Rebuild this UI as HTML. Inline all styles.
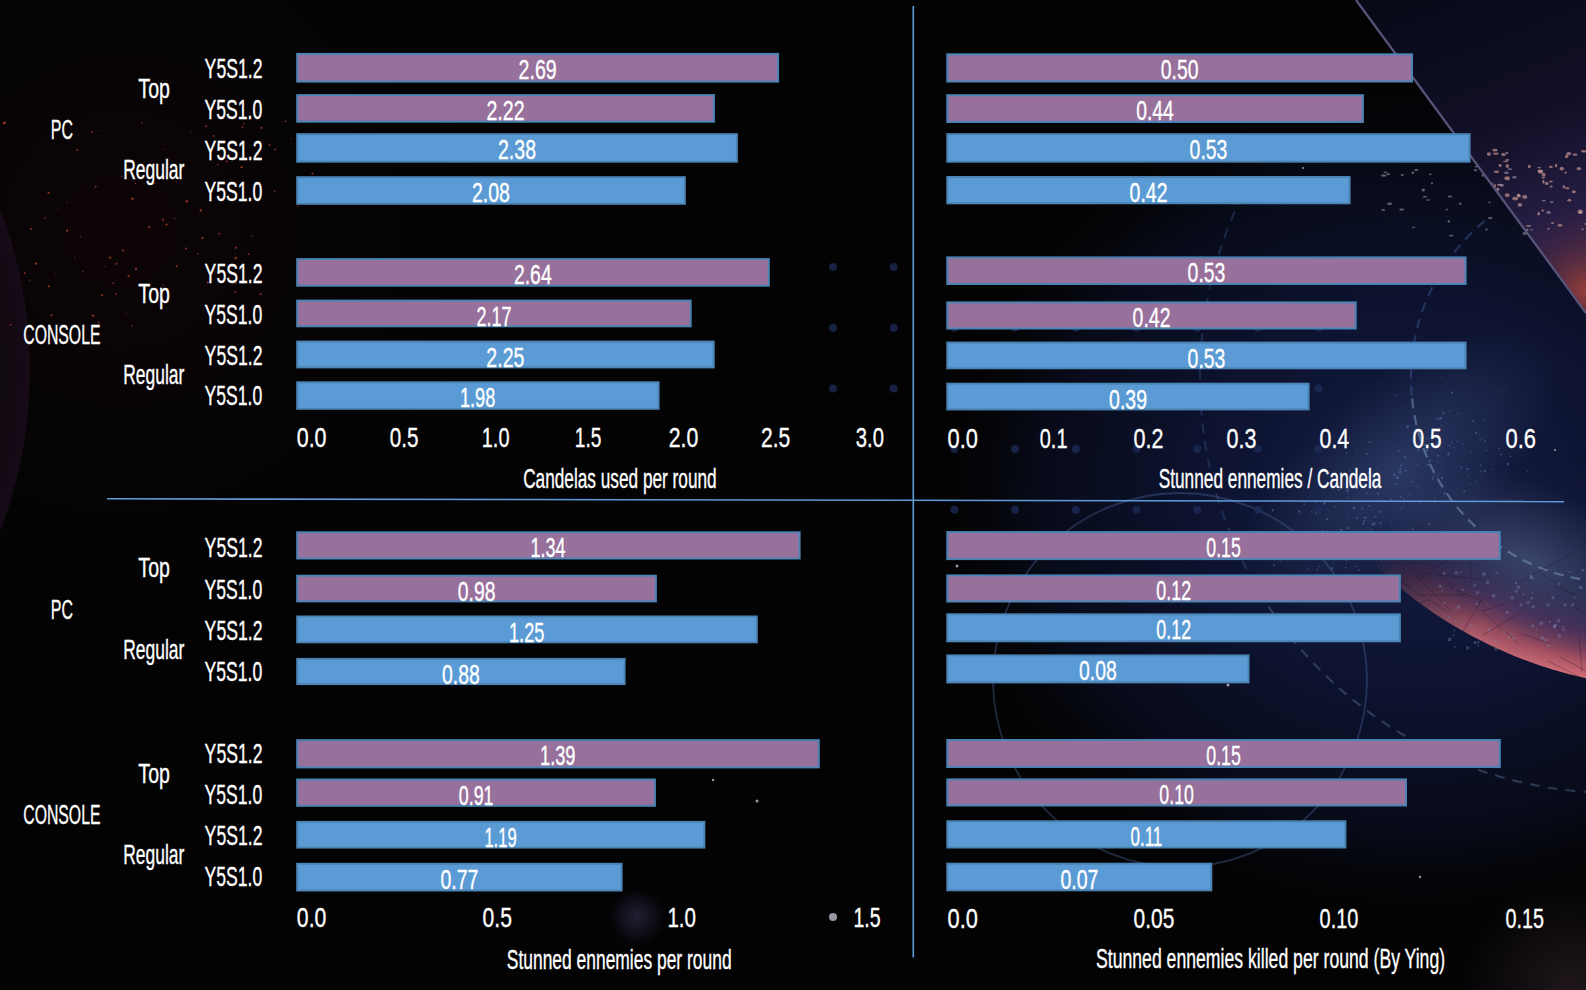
<!DOCTYPE html>
<html><head><meta charset="utf-8"><style>
html,body{margin:0;padding:0;background:#030304;overflow:hidden}
svg{display:block}
text{font-family:"Liberation Sans",sans-serif;stroke:#fff;stroke-width:0.35px}
</style></head><body>
<svg width="1586" height="990" viewBox="0 0 1586 990">
<defs>
<radialGradient id="navy" cx="1420" cy="500" r="540" gradientTransform="translate(1420 500) scale(0.9 0.78) translate(-1420 -500)" gradientUnits="userSpaceOnUse">
<stop offset="0" stop-color="#141c42"/><stop offset="0.45" stop-color="#0d1330"/><stop offset="0.8" stop-color="#070a17"/><stop offset="1" stop-color="#050507" stop-opacity="0"/>
</radialGradient>
<radialGradient id="redtl" cx="120" cy="230" r="380" gradientUnits="userSpaceOnUse">
<stop offset="0" stop-color="#0e0406" stop-opacity="1"/><stop offset="1" stop-color="#060507" stop-opacity="0"/>
</radialGradient>
<radialGradient id="ring" cx="1683" cy="242" r="447" gradientUnits="userSpaceOnUse">
<stop offset="0" stop-color="#141a3a" stop-opacity="0"/><stop offset="0.8" stop-color="#2a2a50" stop-opacity="0.35"/><stop offset="0.9" stop-color="#603460" stop-opacity="0.8"/><stop offset="0.965" stop-color="#b25666"/><stop offset="1" stop-color="#da727a"/>
</radialGradient>
<radialGradient id="ringmask" cx="1580" cy="700" r="250" gradientUnits="userSpaceOnUse">
<stop offset="0" stop-color="#fff"/><stop offset="0.5" stop-color="#ccc"/><stop offset="1" stop-color="#000"/>
</radialGradient>
<mask id="rm"><rect width="1586" height="990" fill="url(#ringmask)"/></mask>
<radialGradient id="clouds" cx="1400" cy="470" r="150" gradientUnits="userSpaceOnUse" gradientTransform="translate(1400 470) rotate(-40) scale(1.3 0.6) translate(-1400 -470)">
<stop offset="0" stop-color="#3c5080" stop-opacity="0.55"/><stop offset="1" stop-color="#3a4a78" stop-opacity="0"/>
</radialGradient>
<radialGradient id="surf" cx="1530" cy="560" r="110" gradientUnits="userSpaceOnUse" gradientTransform="translate(1530 560) rotate(25) scale(1.4 0.7) translate(-1530 -560)">
<stop offset="0" stop-color="#5a6690" stop-opacity="0.55"/><stop offset="1" stop-color="#4a5680" stop-opacity="0"/>
</radialGradient>
<linearGradient id="tri" x1="1400" y1="0" x2="1500" y2="260" gradientUnits="userSpaceOnUse">
<stop offset="0" stop-color="#080a18"/><stop offset="0.55" stop-color="#110f26"/><stop offset="1" stop-color="#2a2048"/>
</linearGradient>
<radialGradient id="neb" cx="1586" cy="290" r="85" gradientUnits="userSpaceOnUse">
<stop offset="0" stop-color="#9a4038" stop-opacity="0.95"/><stop offset="1" stop-color="#3a2040" stop-opacity="0"/>
</radialGradient>
<radialGradient id="leftp" cx="-420" cy="370" r="450" gradientUnits="userSpaceOnUse">
<stop offset="0.85" stop-color="#0a060a"/><stop offset="1" stop-color="#160b17"/>
</radialGradient>
<radialGradient id="bot" cx="1570" cy="990" r="110" gradientUnits="userSpaceOnUse">
<stop offset="0" stop-color="#2a1e24" stop-opacity="0.7"/><stop offset="1" stop-color="#2a1e24" stop-opacity="0"/>
</radialGradient>
<radialGradient id="pblob" cx="637" cy="917" r="28" gradientUnits="userSpaceOnUse">
<stop offset="0" stop-color="#2a2440" stop-opacity="0.8"/><stop offset="1" stop-color="#2a2440" stop-opacity="0"/>
</radialGradient>
<clipPath id="triclip"><polygon points="1356,0 1586,0 1586,313"/></clipPath>
<clipPath id="planetclip"><circle cx="1683" cy="242" r="447"/></clipPath>
</defs>
<rect width="1586" height="990" fill="#030304"/>
<rect width="1586" height="990" fill="url(#redtl)"/>
<circle cx="-420" cy="370" r="450" fill="url(#leftp)"/>
<rect width="1586" height="990" fill="url(#navy)"/>
<rect width="1586" height="990" fill="url(#clouds)"/>
<circle cx="1683" cy="242" r="447" fill="url(#ring)" mask="url(#rm)"/>
<rect width="1586" height="990" fill="url(#surf)"/>
<rect width="1586" height="990" fill="url(#bot)"/>
<rect width="1586" height="990" fill="url(#pblob)"/>

<path d="M1597.2 581.2A204 204 0 0 1 1411.8 395.8" fill="none" stroke="#8aaad0" stroke-opacity="0.45" stroke-width="2.2" stroke-dasharray="10 7"/>
<path d="M1411.8 395.8A204 204 0 0 1 1489.4 217.2" fill="none" stroke="#3a5a98" stroke-opacity="0.45" stroke-width="2.2" stroke-dasharray="10 7"/>
<path d="M1593.3 792.4A415 415 0 0 1 1255.6 585.5" fill="none" stroke="#7a9cc8" stroke-opacity="0.3" stroke-width="2.2" stroke-dasharray="10 8"/>
<path d="M1255.6 585.5A415 415 0 0 1 1238.9 202.6" fill="none" stroke="#34548c" stroke-opacity="0.4" stroke-width="2" stroke-dasharray="10 8"/>
<circle cx="1180" cy="680" r="187" fill="none" stroke="#4a6498" stroke-opacity="0.4" stroke-width="1.8"/>
<circle cx="833.0" cy="267.0" r="4" fill="#1e2c58" fill-opacity="0.75"/>
<circle cx="833.0" cy="327.7" r="4" fill="#1e2c58" fill-opacity="0.75"/>
<circle cx="833.0" cy="388.4" r="4" fill="#1e2c58" fill-opacity="0.75"/>
<circle cx="893.7" cy="267.0" r="4" fill="#1e2c58" fill-opacity="0.75"/>
<circle cx="893.7" cy="327.7" r="4" fill="#1e2c58" fill-opacity="0.75"/>
<circle cx="893.7" cy="388.4" r="4" fill="#1e2c58" fill-opacity="0.75"/>
<circle cx="954.4" cy="267.0" r="4" fill="#1e2c58" fill-opacity="0.75"/>
<circle cx="954.4" cy="327.7" r="4" fill="#1e2c58" fill-opacity="0.75"/>
<circle cx="954.4" cy="388.4" r="4" fill="#1e2c58" fill-opacity="0.75"/>
<circle cx="954.4" cy="449.1" r="4" fill="#1e2c58" fill-opacity="0.75"/>
<circle cx="954.4" cy="509.8" r="4" fill="#1e2c58" fill-opacity="0.75"/>
<circle cx="1015.1" cy="267.0" r="4" fill="#1e2c58" fill-opacity="0.75"/>
<circle cx="1015.1" cy="327.7" r="4" fill="#1e2c58" fill-opacity="0.75"/>
<circle cx="1015.1" cy="388.4" r="4" fill="#1e2c58" fill-opacity="0.75"/>
<circle cx="1015.1" cy="449.1" r="4" fill="#1e2c58" fill-opacity="0.75"/>
<circle cx="1015.1" cy="509.8" r="4" fill="#1e2c58" fill-opacity="0.75"/>
<circle cx="1075.8" cy="267.0" r="4" fill="#1e2c58" fill-opacity="0.75"/>
<circle cx="1075.8" cy="327.7" r="4" fill="#1e2c58" fill-opacity="0.75"/>
<circle cx="1075.8" cy="388.4" r="4" fill="#1e2c58" fill-opacity="0.75"/>
<circle cx="1075.8" cy="449.1" r="4" fill="#1e2c58" fill-opacity="0.75"/>
<circle cx="1075.8" cy="509.8" r="4" fill="#1e2c58" fill-opacity="0.75"/>
<circle cx="1136.5" cy="267.0" r="4" fill="#1e2c58" fill-opacity="0.75"/>
<circle cx="1136.5" cy="327.7" r="4" fill="#1e2c58" fill-opacity="0.75"/>
<circle cx="1136.5" cy="388.4" r="4" fill="#1e2c58" fill-opacity="0.75"/>
<circle cx="1136.5" cy="449.1" r="4" fill="#1e2c58" fill-opacity="0.75"/>
<circle cx="1136.5" cy="509.8" r="4" fill="#1e2c58" fill-opacity="0.75"/>
<circle cx="1197.2" cy="267.0" r="4" fill="#1e2c58" fill-opacity="0.75"/>
<circle cx="1197.2" cy="327.7" r="4" fill="#1e2c58" fill-opacity="0.75"/>
<circle cx="1197.2" cy="388.4" r="4" fill="#1e2c58" fill-opacity="0.75"/>
<circle cx="1197.2" cy="449.1" r="4" fill="#1e2c58" fill-opacity="0.75"/>
<circle cx="1197.2" cy="509.8" r="4" fill="#1e2c58" fill-opacity="0.75"/>
<circle cx="1257.9" cy="267.0" r="4" fill="#1e2c58" fill-opacity="0.75"/>
<circle cx="1257.9" cy="327.7" r="4" fill="#1e2c58" fill-opacity="0.75"/>
<circle cx="1257.9" cy="388.4" r="4" fill="#1e2c58" fill-opacity="0.75"/>
<circle cx="1257.9" cy="449.1" r="4" fill="#1e2c58" fill-opacity="0.75"/>
<circle cx="1257.9" cy="509.8" r="4" fill="#1e2c58" fill-opacity="0.75"/>
<circle cx="1318.6" cy="267.0" r="4" fill="#1e2c58" fill-opacity="0.75"/>
<circle cx="1318.6" cy="327.7" r="4" fill="#1e2c58" fill-opacity="0.75"/>
<circle cx="1318.6" cy="388.4" r="4" fill="#1e2c58" fill-opacity="0.75"/>
<circle cx="1318.6" cy="449.1" r="4" fill="#1e2c58" fill-opacity="0.75"/>
<circle cx="1318.6" cy="509.8" r="4" fill="#1e2c58" fill-opacity="0.75"/>
<g clip-path="url(#planetclip)"><path d="M1413 563L1431 528 M1467 595L1414 595 M1340 605L1288 572 M1439 664L1394 642 M1491 682L1500 674 M1580 547L1623 530 M1367 558L1344 583 M1376 627L1393 617 M1470 549L1417 526 M1504 604L1482 611 M1446 585L1481 601 M1392 626L1396 656 M1517 583L1574 553 M1437 654L1395 653 M1340 640L1372 646 M1554 587L1578 595 M1478 608L1519 644 M1451 640L1399 656 M1496 689L1534 672 M1429 640L1371 637 M1373 558L1320 579 M1363 577L1350 607 M1351 607L1357 638 M1540 670L1513 663 M1422 673L1477 645 M1375 575L1343 574 M1481 579L1421 573 M1425 625L1479 640 M1462 633L1483 597 M1560 657L1605 681 M1430 600L1383 611 M1346 550L1311 523 M1417 548L1357 520 M1356 595L1299 624 M1487 562L1457 550 M1423 558L1465 598 M1449 613L1400 581 M1418 580L1457 553 M1336 683L1339 654 M1469 544L1472 582 M1551 644L1522 634 M1373 656L1377 678 M1414 573L1452 612 M1548 661L1586 680 M1388 618L1371 580 M1337 582L1308 597 M1575 607L1627 646 M1574 595L1541 573 M1380 571L1395 603 M1545 612L1564 636 M1352 639L1401 662 M1522 612L1483 635 M1415 660L1472 652 M1433 682L1460 656 M1363 563L1411 587 M1367 664L1425 677 M1420 622L1375 583 M1579 637L1582 672 M1441 671L1480 648 M1394 584L1363 591" stroke="#1a1428" stroke-opacity="0.3" stroke-width="1" fill="none"/></g>
<g fill="#6f8cc0" fill-opacity="0.4"><circle cx="1341.2" cy="530.1" r="1.2"/><circle cx="1327.1" cy="519.1" r="1.2"/><circle cx="1417.8" cy="486.5" r="0.9"/><circle cx="1435.0" cy="489.9" r="0.6"/><circle cx="1325.1" cy="544.8" r="0.9"/><circle cx="1399.1" cy="450.8" r="0.9"/><circle cx="1406.0" cy="470.7" r="0.9"/><circle cx="1345.6" cy="567.6" r="0.9"/><circle cx="1408.2" cy="426.3" r="0.9"/><circle cx="1369.2" cy="473.2" r="1.1"/><circle cx="1347.7" cy="490.8" r="1.3"/><circle cx="1483.9" cy="420.3" r="0.7"/><circle cx="1465.8" cy="465.0" r="0.6"/><circle cx="1323.8" cy="546.4" r="0.7"/><circle cx="1299.4" cy="511.5" r="1.2"/><circle cx="1330.6" cy="502.5" r="0.6"/><circle cx="1476.3" cy="432.8" r="1.3"/><circle cx="1272.8" cy="510.3" r="1.2"/><circle cx="1304.2" cy="550.0" r="0.8"/><circle cx="1324.4" cy="569.0" r="0.5"/><circle cx="1396.0" cy="484.2" r="0.8"/><circle cx="1400.1" cy="471.9" r="1.3"/><circle cx="1454.0" cy="447.5" r="0.7"/><circle cx="1329.1" cy="534.9" r="0.6"/><circle cx="1437.1" cy="476.5" r="0.7"/><circle cx="1380.5" cy="523.3" r="1.1"/><circle cx="1381.6" cy="561.0" r="0.8"/><circle cx="1375.0" cy="536.5" r="1.1"/><circle cx="1338.8" cy="541.0" r="1.2"/><circle cx="1363.4" cy="523.4" r="1.2"/><circle cx="1388.2" cy="544.7" r="0.7"/><circle cx="1340.6" cy="551.5" r="0.7"/><circle cx="1345.4" cy="556.0" r="0.7"/><circle cx="1408.2" cy="510.7" r="0.5"/><circle cx="1412.7" cy="528.8" r="0.9"/><circle cx="1266.1" cy="542.7" r="0.6"/><circle cx="1405.2" cy="457.4" r="1.2"/><circle cx="1324.4" cy="503.4" r="1.3"/><circle cx="1397.2" cy="478.0" r="1.0"/><circle cx="1372.8" cy="510.2" r="0.6"/><circle cx="1327.2" cy="530.9" r="0.6"/><circle cx="1369.2" cy="505.7" r="1.0"/><circle cx="1362.3" cy="541.3" r="0.9"/><circle cx="1316.2" cy="544.5" r="1.3"/><circle cx="1440.8" cy="418.4" r="1.3"/><circle cx="1364.0" cy="517.6" r="0.8"/><circle cx="1366.7" cy="493.3" r="0.9"/><circle cx="1317.4" cy="570.1" r="0.8"/><circle cx="1353.8" cy="557.2" r="0.7"/><circle cx="1349.7" cy="470.4" r="1.0"/><circle cx="1452.0" cy="442.7" r="0.8"/><circle cx="1500.8" cy="454.5" r="1.0"/><circle cx="1362.4" cy="508.5" r="1.0"/><circle cx="1436.9" cy="444.6" r="0.9"/><circle cx="1426.8" cy="450.5" r="1.2"/><circle cx="1448.2" cy="454.6" r="1.1"/><circle cx="1371.3" cy="530.4" r="0.8"/><circle cx="1356.9" cy="517.9" r="1.0"/><circle cx="1396.1" cy="446.1" r="0.5"/><circle cx="1438.8" cy="418.8" r="0.9"/><circle cx="1470.5" cy="484.2" r="0.7"/><circle cx="1323.8" cy="589.8" r="0.7"/><circle cx="1470.8" cy="452.0" r="0.8"/><circle cx="1366.6" cy="453.9" r="1.0"/><circle cx="1433.2" cy="476.6" r="0.7"/><circle cx="1415.8" cy="486.5" r="0.5"/><circle cx="1321.1" cy="588.6" r="1.1"/><circle cx="1410.0" cy="494.6" r="0.9"/><circle cx="1443.4" cy="530.6" r="0.7"/><circle cx="1472.7" cy="421.2" r="0.9"/><circle cx="1480.1" cy="439.8" r="0.7"/><circle cx="1372.6" cy="524.9" r="1.0"/><circle cx="1254.1" cy="530.9" r="0.6"/><circle cx="1369.7" cy="442.3" r="1.1"/><circle cx="1385.5" cy="510.3" r="0.5"/><circle cx="1280.3" cy="560.9" r="0.7"/><circle cx="1322.4" cy="558.4" r="1.2"/><circle cx="1318.6" cy="512.0" r="0.6"/><circle cx="1441.5" cy="377.9" r="0.7"/><circle cx="1274.2" cy="565.0" r="1.0"/><circle cx="1347.6" cy="518.3" r="0.5"/><circle cx="1348.0" cy="528.1" r="1.2"/><circle cx="1351.8" cy="554.9" r="0.7"/><circle cx="1444.7" cy="493.6" r="1.1"/><circle cx="1485.1" cy="440.9" r="0.9"/><circle cx="1481.5" cy="471.7" r="0.9"/><circle cx="1414.7" cy="438.4" r="0.5"/><circle cx="1486.4" cy="450.5" r="0.8"/><circle cx="1356.7" cy="450.1" r="0.7"/><circle cx="1403.7" cy="498.5" r="0.8"/><circle cx="1356.0" cy="551.1" r="1.2"/><circle cx="1407.8" cy="543.8" r="1.3"/><circle cx="1401.0" cy="509.6" r="0.6"/><circle cx="1391.7" cy="522.1" r="0.7"/><circle cx="1448.8" cy="453.2" r="0.8"/><circle cx="1347.3" cy="498.4" r="0.8"/><circle cx="1311.7" cy="615.8" r="0.6"/><circle cx="1346.6" cy="453.3" r="0.7"/><circle cx="1359.5" cy="547.3" r="0.9"/><circle cx="1504.3" cy="385.1" r="0.5"/><circle cx="1304.2" cy="504.0" r="0.9"/><circle cx="1442.1" cy="477.8" r="1.2"/><circle cx="1501.1" cy="391.6" r="0.7"/><circle cx="1358.6" cy="569.8" r="1.0"/><circle cx="1452.2" cy="392.7" r="1.1"/><circle cx="1378.1" cy="493.7" r="1.1"/><circle cx="1397.5" cy="510.1" r="0.7"/><circle cx="1336.9" cy="577.6" r="1.1"/><circle cx="1373.6" cy="557.3" r="1.0"/><circle cx="1384.8" cy="539.1" r="0.5"/><circle cx="1278.1" cy="533.2" r="1.0"/><circle cx="1427.0" cy="439.1" r="0.7"/><circle cx="1455.6" cy="405.0" r="0.5"/><circle cx="1377.0" cy="467.0" r="0.7"/><circle cx="1441.8" cy="458.4" r="0.5"/><circle cx="1322.8" cy="530.8" r="0.7"/><circle cx="1436.3" cy="418.8" r="0.7"/><circle cx="1440.9" cy="467.1" r="0.7"/><circle cx="1353.6" cy="508.1" r="1.3"/><circle cx="1402.9" cy="507.0" r="0.8"/><circle cx="1437.8" cy="462.4" r="0.8"/><circle cx="1369.5" cy="527.9" r="0.5"/><circle cx="1268.5" cy="584.8" r="1.2"/><circle cx="1510.4" cy="456.5" r="0.8"/><circle cx="1399.5" cy="517.8" r="0.5"/><circle cx="1394.5" cy="483.7" r="0.8"/><circle cx="1372.1" cy="536.7" r="0.8"/><circle cx="1527.6" cy="471.5" r="0.7"/><circle cx="1400.5" cy="468.2" r="0.8"/><circle cx="1292.2" cy="557.1" r="1.2"/><circle cx="1298.3" cy="573.1" r="0.5"/><circle cx="1403.1" cy="463.0" r="0.5"/><circle cx="1396.0" cy="576.7" r="0.7"/><circle cx="1457.2" cy="441.8" r="0.7"/><circle cx="1443.3" cy="412.9" r="1.1"/><circle cx="1365.6" cy="517.8" r="1.1"/><circle cx="1401.5" cy="387.0" r="0.5"/><circle cx="1266.9" cy="537.0" r="1.3"/><circle cx="1376.5" cy="532.4" r="0.9"/><circle cx="1484.9" cy="471.2" r="1.1"/><circle cx="1449.9" cy="411.0" r="0.8"/><circle cx="1327.1" cy="548.6" r="0.6"/><circle cx="1348.5" cy="513.5" r="0.6"/><circle cx="1293.8" cy="548.1" r="1.3"/><circle cx="1479.7" cy="434.8" r="0.6"/><circle cx="1277.6" cy="546.9" r="0.9"/><circle cx="1311.4" cy="544.6" r="1.0"/><circle cx="1461.3" cy="425.0" r="0.6"/><circle cx="1433.5" cy="473.4" r="0.8"/><circle cx="1438.5" cy="474.6" r="0.7"/><circle cx="1375.6" cy="516.7" r="0.8"/><circle cx="1419.8" cy="503.1" r="0.7"/><circle cx="1379.6" cy="383.8" r="0.6"/><circle cx="1418.4" cy="450.1" r="1.2"/><circle cx="1319.4" cy="566.5" r="0.7"/><circle cx="1395.9" cy="395.0" r="0.8"/><circle cx="1423.9" cy="444.8" r="1.1"/><circle cx="1498.8" cy="448.4" r="1.0"/><circle cx="1338.0" cy="539.7" r="0.7"/><circle cx="1315.5" cy="503.1" r="0.7"/><circle cx="1295.1" cy="591.7" r="0.6"/><circle cx="1383.4" cy="558.9" r="0.9"/><circle cx="1355.8" cy="566.1" r="0.9"/><circle cx="1432.7" cy="478.6" r="1.1"/><circle cx="1374.1" cy="523.6" r="1.3"/><circle cx="1335.4" cy="506.7" r="0.8"/><circle cx="1482.6" cy="438.5" r="0.7"/><circle cx="1429.8" cy="460.7" r="1.2"/><circle cx="1397.7" cy="477.6" r="1.2"/><circle cx="1391.2" cy="499.2" r="0.9"/><circle cx="1428.1" cy="464.5" r="1.0"/><circle cx="1354.7" cy="507.7" r="0.7"/><circle cx="1412.2" cy="481.6" r="0.9"/><circle cx="1463.0" cy="443.9" r="0.6"/><circle cx="1501.1" cy="423.6" r="0.5"/><circle cx="1401.0" cy="465.4" r="1.0"/><circle cx="1476.2" cy="481.7" r="0.7"/><circle cx="1416.9" cy="464.7" r="0.6"/><circle cx="1317.0" cy="547.3" r="0.8"/><circle cx="1337.7" cy="582.9" r="1.2"/><circle cx="1269.8" cy="538.2" r="0.5"/><circle cx="1480.4" cy="465.4" r="0.9"/><circle cx="1400.7" cy="496.7" r="1.0"/><circle cx="1362.1" cy="477.5" r="0.9"/><circle cx="1291.8" cy="537.0" r="0.7"/><circle cx="1441.3" cy="425.9" r="0.6"/><circle cx="1404.3" cy="501.9" r="0.8"/><circle cx="1292.9" cy="557.8" r="0.5"/><circle cx="1464.2" cy="491.0" r="1.1"/><circle cx="1434.8" cy="498.3" r="0.8"/><circle cx="1507.8" cy="464.1" r="1.3"/><circle cx="1438.4" cy="442.5" r="1.3"/><circle cx="1467.8" cy="476.2" r="0.6"/><circle cx="1449.5" cy="445.7" r="0.8"/><circle cx="1473.4" cy="498.9" r="0.7"/><circle cx="1467.6" cy="469.0" r="1.2"/><circle cx="1346.3" cy="560.4" r="0.8"/><circle cx="1332.2" cy="568.3" r="1.2"/><circle cx="1438.2" cy="455.6" r="1.1"/><circle cx="1286.6" cy="537.1" r="0.8"/><circle cx="1407.3" cy="426.6" r="1.2"/><circle cx="1383.2" cy="543.8" r="0.8"/><circle cx="1429.4" cy="524.3" r="1.0"/><circle cx="1376.2" cy="482.7" r="0.6"/><circle cx="1492.9" cy="469.7" r="0.7"/><circle cx="1461.4" cy="467.2" r="1.0"/><circle cx="1374.7" cy="516.3" r="0.6"/><circle cx="1373.4" cy="486.1" r="1.2"/><circle cx="1345.3" cy="577.5" r="0.5"/><circle cx="1308.2" cy="569.0" r="0.8"/><circle cx="1311.7" cy="511.9" r="0.7"/><circle cx="1394.2" cy="474.8" r="1.2"/><circle cx="1364.3" cy="534.9" r="1.0"/><circle cx="1457.6" cy="413.2" r="0.7"/><circle cx="1292.2" cy="533.0" r="0.8"/><circle cx="1338.9" cy="490.0" r="1.1"/><circle cx="1364.4" cy="520.9" r="0.9"/><circle cx="1380.6" cy="511.8" r="1.1"/><circle cx="1240.9" cy="539.6" r="0.6"/><circle cx="1315.9" cy="513.4" r="1.0"/></g>
<g fill="#8090b8" fill-opacity="0.35"><circle cx="1558.8" cy="584.0" r="1.2"/><circle cx="1483.8" cy="573.9" r="1.9"/><circle cx="1554.3" cy="627.2" r="0.8"/><circle cx="1563.3" cy="629.6" r="1.4"/><circle cx="1548.3" cy="606.2" r="1.1"/><circle cx="1455.4" cy="588.6" r="0.8"/><circle cx="1489.0" cy="630.0" r="1.6"/><circle cx="1563.4" cy="626.9" r="1.1"/><circle cx="1520.9" cy="604.9" r="1.7"/><circle cx="1516.4" cy="591.2" r="1.6"/><circle cx="1580.9" cy="587.4" r="1.9"/><circle cx="1442.2" cy="590.8" r="1.1"/><circle cx="1548.6" cy="645.6" r="1.7"/><circle cx="1487.7" cy="640.4" r="1.2"/><circle cx="1474.9" cy="642.6" r="1.6"/><circle cx="1541.2" cy="623.2" r="2.0"/><circle cx="1508.5" cy="637.2" r="1.6"/><circle cx="1565.2" cy="605.0" r="1.7"/><circle cx="1523.3" cy="594.6" r="1.1"/><circle cx="1530.9" cy="576.2" r="1.9"/><circle cx="1461.1" cy="572.2" r="0.9"/><circle cx="1575.6" cy="597.6" r="1.0"/><circle cx="1444.2" cy="573.3" r="1.6"/><circle cx="1532.5" cy="625.8" r="1.7"/><circle cx="1449.6" cy="617.2" r="1.2"/><circle cx="1559.4" cy="635.6" r="1.9"/><circle cx="1449.6" cy="639.4" r="1.9"/><circle cx="1577.9" cy="578.6" r="1.0"/><circle cx="1456.3" cy="572.8" r="1.8"/><circle cx="1558.6" cy="620.7" r="1.8"/><circle cx="1532.2" cy="593.0" r="0.9"/><circle cx="1454.3" cy="630.6" r="1.0"/><circle cx="1486.6" cy="603.9" r="0.8"/><circle cx="1477.5" cy="592.6" r="1.7"/><circle cx="1493.7" cy="595.7" r="2.0"/><circle cx="1513.5" cy="638.1" r="1.5"/><circle cx="1444.5" cy="603.0" r="1.3"/><circle cx="1552.9" cy="597.7" r="1.6"/><circle cx="1518.5" cy="587.3" r="1.8"/><circle cx="1453.3" cy="635.6" r="1.0"/><circle cx="1440.2" cy="586.2" r="1.7"/><circle cx="1582.8" cy="570.3" r="1.4"/><circle cx="1511.8" cy="633.7" r="1.0"/><circle cx="1512.2" cy="597.8" r="1.8"/><circle cx="1478.0" cy="645.5" r="1.1"/><circle cx="1471.3" cy="626.0" r="1.4"/><circle cx="1456.0" cy="620.9" r="0.9"/><circle cx="1555.0" cy="625.8" r="1.7"/><circle cx="1531.7" cy="598.4" r="1.3"/><circle cx="1497.6" cy="641.2" r="0.9"/><circle cx="1569.7" cy="572.0" r="1.0"/><circle cx="1478.4" cy="642.1" r="1.4"/><circle cx="1495.4" cy="640.7" r="1.1"/><circle cx="1507.3" cy="612.5" r="1.7"/><circle cx="1549.9" cy="621.7" r="1.2"/><circle cx="1487.7" cy="582.4" r="1.8"/><circle cx="1536.7" cy="629.4" r="1.0"/><circle cx="1504.1" cy="631.9" r="1.5"/><circle cx="1458.4" cy="607.0" r="1.9"/><circle cx="1474.7" cy="585.3" r="1.2"/><circle cx="1542.7" cy="637.5" r="1.0"/><circle cx="1462.8" cy="589.8" r="1.2"/><circle cx="1516.2" cy="582.9" r="1.2"/><circle cx="1467.6" cy="648.0" r="1.7"/><circle cx="1454.9" cy="647.0" r="0.9"/><circle cx="1496.1" cy="648.7" r="1.8"/><circle cx="1547.1" cy="604.8" r="1.0"/><circle cx="1533.1" cy="578.5" r="1.0"/><circle cx="1496.7" cy="572.7" r="1.3"/><circle cx="1555.5" cy="625.5" r="1.4"/><circle cx="1532.3" cy="607.1" r="1.0"/><circle cx="1528.1" cy="602.4" r="1.7"/><circle cx="1572.6" cy="604.4" r="1.5"/><circle cx="1549.4" cy="603.7" r="1.1"/><circle cx="1545.4" cy="640.4" r="1.7"/><circle cx="1542.2" cy="638.2" r="1.6"/><circle cx="1533.7" cy="606.3" r="1.2"/><circle cx="1531.7" cy="577.8" r="1.3"/><circle cx="1554.2" cy="627.1" r="1.6"/><circle cx="1476.5" cy="603.9" r="1.3"/></g>
<g fill="#c84830" fill-opacity="0.7"><circle cx="123.1" cy="250.5" r="1.0"/><circle cx="51.5" cy="315.3" r="1.0"/><circle cx="113.1" cy="283.4" r="0.8"/><circle cx="10.6" cy="324.7" r="0.9"/><circle cx="257.9" cy="153.8" r="1.2"/><circle cx="31.1" cy="229.0" r="0.9"/><circle cx="219.4" cy="233.6" r="0.9"/><circle cx="248.5" cy="254.2" r="0.9"/><circle cx="297.8" cy="206.2" r="0.6"/><circle cx="116.5" cy="263.7" r="1.0"/><circle cx="327.1" cy="145.7" r="0.7"/><circle cx="92.3" cy="131.9" r="0.8"/><circle cx="142.0" cy="122.8" r="0.8"/><circle cx="104.2" cy="266.6" r="0.7"/><circle cx="241.6" cy="167.1" r="1.2"/><circle cx="67.2" cy="230.7" r="1.1"/><circle cx="66.8" cy="202.3" r="0.6"/><circle cx="235.6" cy="283.1" r="0.9"/><circle cx="174.5" cy="218.5" r="0.7"/><circle cx="98.6" cy="322.4" r="0.9"/><circle cx="235.4" cy="291.9" r="0.8"/><circle cx="176.2" cy="181.8" r="0.6"/><circle cx="102.0" cy="295.1" r="1.1"/><circle cx="121.6" cy="176.2" r="0.7"/><circle cx="58.2" cy="209.5" r="0.5"/><circle cx="82.8" cy="271.6" r="0.7"/><circle cx="153.9" cy="183.4" r="0.8"/><circle cx="197.7" cy="253.8" r="0.8"/><circle cx="240.5" cy="315.0" r="0.5"/><circle cx="260.7" cy="293.9" r="1.0"/><circle cx="275.3" cy="149.5" r="0.9"/><circle cx="3.9" cy="123.1" r="1.2"/><circle cx="74.7" cy="257.8" r="0.6"/><circle cx="77.3" cy="150.0" r="1.0"/><circle cx="48.6" cy="192.8" r="1.1"/><circle cx="48.7" cy="286.3" r="1.1"/><circle cx="235.7" cy="247.8" r="1.0"/><circle cx="223.6" cy="307.7" r="1.1"/><circle cx="226.9" cy="161.4" r="0.9"/><circle cx="128.6" cy="275.8" r="1.1"/><circle cx="80.7" cy="236.6" r="0.7"/><circle cx="163.3" cy="149.3" r="0.5"/><circle cx="44.9" cy="218.1" r="0.8"/><circle cx="166.5" cy="224.6" r="1.1"/><circle cx="285.5" cy="121.4" r="0.8"/><circle cx="202.6" cy="238.1" r="1.1"/><circle cx="132.5" cy="198.7" r="1.2"/><circle cx="213.6" cy="135.8" r="0.9"/><circle cx="206.2" cy="126.0" r="1.0"/><circle cx="93.0" cy="315.6" r="1.2"/><circle cx="149.2" cy="227.2" r="1.1"/><circle cx="242.6" cy="127.1" r="0.9"/><circle cx="274.6" cy="191.1" r="0.8"/><circle cx="163.0" cy="219.7" r="1.0"/><circle cx="142.2" cy="164.3" r="0.8"/><circle cx="252.2" cy="236.3" r="0.7"/><circle cx="116.2" cy="293.8" r="0.9"/><circle cx="163.5" cy="177.1" r="1.2"/><circle cx="236.6" cy="257.5" r="0.7"/><circle cx="95.8" cy="186.6" r="0.9"/><circle cx="235.3" cy="253.3" r="0.5"/><circle cx="260.8" cy="271.8" r="0.9"/><circle cx="101.2" cy="130.4" r="0.5"/><circle cx="302.3" cy="159.9" r="0.9"/><circle cx="235.6" cy="258.2" r="1.1"/><circle cx="185.9" cy="248.5" r="0.9"/><circle cx="176.6" cy="266.2" r="1.0"/><circle cx="217.9" cy="164.6" r="0.8"/><circle cx="29.6" cy="280.2" r="0.6"/><circle cx="261.5" cy="127.8" r="1.1"/><circle cx="110.2" cy="257.7" r="1.1"/><circle cx="163.3" cy="285.2" r="0.7"/><circle cx="135.4" cy="183.4" r="0.7"/><circle cx="200.8" cy="210.4" r="1.2"/><circle cx="191.0" cy="131.5" r="0.5"/><circle cx="269.4" cy="145.0" r="0.9"/><circle cx="126.0" cy="312.9" r="0.5"/><circle cx="186.8" cy="201.3" r="1.2"/><circle cx="132.3" cy="326.0" r="0.8"/><circle cx="215.0" cy="141.4" r="0.6"/><circle cx="5.1" cy="151.9" r="0.5"/><circle cx="36.1" cy="263.6" r="1.2"/><circle cx="290.8" cy="138.5" r="0.6"/><circle cx="243.8" cy="123.7" r="0.7"/><circle cx="55.1" cy="274.0" r="0.5"/><circle cx="207.8" cy="282.5" r="1.1"/><circle cx="24.8" cy="273.2" r="0.9"/><circle cx="136.0" cy="268.9" r="1.2"/><circle cx="312.4" cy="173.4" r="1.0"/><circle cx="5.0" cy="122.4" r="1.0"/></g>
<g clip-path="url(#triclip)"><rect x="1356" y="0" width="230" height="313" fill="url(#tri)"/><rect x="1356" y="0" width="230" height="313" fill="url(#neb)"/>
<g fill="#e0a8a0" fill-opacity="0.6"><ellipse cx="1566.6" cy="156.4" rx="1.6" ry="1.7"/><ellipse cx="1497.6" cy="218.9" rx="2.0" ry="0.9"/><ellipse cx="1519.0" cy="196.0" rx="1.9" ry="1.6"/><ellipse cx="1495.4" cy="213.8" rx="1.7" ry="1.6"/><ellipse cx="1546.7" cy="183.4" rx="1.8" ry="1.7"/><ellipse cx="1580.2" cy="212.8" rx="2.1" ry="1.2"/><ellipse cx="1486.4" cy="227.9" rx="2.4" ry="1.8"/><ellipse cx="1515.2" cy="198.5" rx="3.0" ry="1.8"/><ellipse cx="1543.7" cy="174.7" rx="1.9" ry="1.9"/><ellipse cx="1519.9" cy="204.8" rx="2.2" ry="1.9"/><ellipse cx="1565.6" cy="172.7" rx="1.0" ry="1.1"/><ellipse cx="1524.8" cy="196.9" rx="2.6" ry="1.9"/><ellipse cx="1484.5" cy="216.7" rx="2.6" ry="1.8"/><ellipse cx="1540.6" cy="171.9" rx="2.7" ry="1.8"/><ellipse cx="1552.6" cy="223.1" rx="1.7" ry="0.9"/><ellipse cx="1538.7" cy="213.8" rx="1.4" ry="1.7"/><ellipse cx="1578.8" cy="168.7" rx="2.2" ry="1.6"/><ellipse cx="1529.3" cy="166.5" rx="1.5" ry="1.7"/><ellipse cx="1563.9" cy="186.8" rx="1.2" ry="1.8"/><ellipse cx="1561.8" cy="168.6" rx="2.2" ry="1.9"/><ellipse cx="1573.8" cy="191.7" rx="2.0" ry="1.5"/><ellipse cx="1500.1" cy="165.4" rx="1.4" ry="1.6"/><ellipse cx="1518.5" cy="195.2" rx="1.8" ry="1.4"/><ellipse cx="1495.8" cy="153.6" rx="3.0" ry="1.2"/><ellipse cx="1491.2" cy="200.6" rx="2.6" ry="1.0"/><ellipse cx="1543.3" cy="177.6" rx="2.0" ry="0.8"/><ellipse cx="1483.6" cy="229.2" rx="2.7" ry="1.4"/><ellipse cx="1540.1" cy="170.9" rx="2.6" ry="1.3"/><ellipse cx="1580.3" cy="211.4" rx="2.6" ry="2.0"/><ellipse cx="1506.9" cy="153.0" rx="1.4" ry="1.0"/><ellipse cx="1488.9" cy="154.1" rx="2.1" ry="1.8"/><ellipse cx="1528.6" cy="225.8" rx="2.8" ry="0.9"/><ellipse cx="1543.4" cy="181.8" rx="1.2" ry="2.0"/><ellipse cx="1507.3" cy="195.2" rx="2.3" ry="1.9"/><ellipse cx="1551.0" cy="181.4" rx="1.9" ry="1.0"/><ellipse cx="1582.4" cy="229.3" rx="1.4" ry="0.8"/><ellipse cx="1507.1" cy="178.2" rx="2.8" ry="1.9"/><ellipse cx="1568.7" cy="153.8" rx="2.6" ry="1.7"/><ellipse cx="1548.5" cy="228.8" rx="1.1" ry="1.0"/><ellipse cx="1560.0" cy="225.2" rx="2.4" ry="1.2"/><ellipse cx="1542.7" cy="210.6" rx="1.2" ry="1.2"/><ellipse cx="1507.2" cy="159.9" rx="2.0" ry="1.0"/><ellipse cx="1505.3" cy="161.5" rx="2.4" ry="0.8"/><ellipse cx="1556.0" cy="165.6" rx="1.1" ry="1.9"/><ellipse cx="1503.4" cy="224.7" rx="2.7" ry="1.9"/><ellipse cx="1494.8" cy="185.8" rx="1.2" ry="1.9"/><ellipse cx="1569.3" cy="200.3" rx="1.9" ry="1.2"/><ellipse cx="1567.2" cy="188.2" rx="2.3" ry="1.0"/><ellipse cx="1503.5" cy="154.5" rx="2.4" ry="1.5"/><ellipse cx="1495.3" cy="219.7" rx="1.5" ry="1.3"/><ellipse cx="1496.5" cy="171.7" rx="2.7" ry="1.2"/><ellipse cx="1497.8" cy="189.3" rx="1.6" ry="1.9"/><ellipse cx="1492.1" cy="228.3" rx="1.1" ry="1.9"/><ellipse cx="1550.8" cy="166.9" rx="2.0" ry="1.1"/><ellipse cx="1507.3" cy="166.1" rx="1.7" ry="2.0"/><ellipse cx="1585.8" cy="224.0" rx="1.2" ry="1.1"/><ellipse cx="1575.0" cy="154.6" rx="2.5" ry="1.2"/><ellipse cx="1583.7" cy="151.3" rx="2.6" ry="1.2"/><ellipse cx="1494.9" cy="150.2" rx="2.7" ry="1.4"/><ellipse cx="1499.7" cy="184.8" rx="2.8" ry="1.1"/></g>
</g>
<g fill="#c8c0d0" fill-opacity="0.45"><ellipse cx="1482.8" cy="175.4" rx="1.3" ry="1.3"/><ellipse cx="1508.1" cy="179.8" rx="1.1" ry="0.7"/><ellipse cx="1489.5" cy="202.2" rx="1.4" ry="0.8"/><ellipse cx="1490.2" cy="218.1" rx="2.3" ry="1.1"/><ellipse cx="1416.4" cy="169.9" rx="2.2" ry="1.0"/><ellipse cx="1509.9" cy="169.2" rx="2.3" ry="0.9"/><ellipse cx="1531.5" cy="229.8" rx="1.8" ry="0.6"/><ellipse cx="1543.8" cy="200.7" rx="2.4" ry="0.8"/><ellipse cx="1413.5" cy="227.4" rx="1.6" ry="0.7"/><ellipse cx="1446.8" cy="209.6" rx="1.0" ry="1.1"/><ellipse cx="1460.2" cy="203.7" rx="1.2" ry="1.2"/><ellipse cx="1527.0" cy="229.9" rx="1.5" ry="1.2"/><ellipse cx="1448.7" cy="221.3" rx="1.1" ry="1.4"/><ellipse cx="1551.7" cy="202.1" rx="1.8" ry="1.1"/><ellipse cx="1476.7" cy="166.6" rx="2.5" ry="0.8"/><ellipse cx="1412.8" cy="172.7" rx="1.4" ry="1.3"/><ellipse cx="1385.4" cy="172.2" rx="2.1" ry="0.8"/><ellipse cx="1383.2" cy="210.0" rx="1.9" ry="1.1"/><ellipse cx="1506.5" cy="172.7" rx="2.4" ry="1.2"/><ellipse cx="1388.1" cy="174.2" rx="1.8" ry="1.1"/><ellipse cx="1430.3" cy="174.2" rx="1.6" ry="0.7"/><ellipse cx="1486.5" cy="229.6" rx="1.2" ry="1.1"/><ellipse cx="1514.4" cy="177.3" rx="2.3" ry="1.4"/><ellipse cx="1450.0" cy="196.5" rx="2.3" ry="1.1"/><ellipse cx="1451.2" cy="235.6" rx="2.2" ry="0.9"/><ellipse cx="1423.3" cy="190.1" rx="1.7" ry="1.5"/><ellipse cx="1524.8" cy="233.5" rx="2.3" ry="1.4"/><ellipse cx="1389.6" cy="203.8" rx="2.5" ry="1.4"/><ellipse cx="1424.9" cy="196.7" rx="2.0" ry="0.9"/><ellipse cx="1475.5" cy="170.2" rx="1.7" ry="1.1"/><ellipse cx="1383.7" cy="175.5" rx="2.6" ry="1.3"/><ellipse cx="1548.6" cy="212.5" rx="2.3" ry="1.4"/><ellipse cx="1539.2" cy="167.6" rx="2.0" ry="0.8"/><ellipse cx="1502.1" cy="185.5" rx="1.9" ry="1.4"/><ellipse cx="1491.8" cy="183.8" rx="1.8" ry="1.0"/><ellipse cx="1551.2" cy="186.6" rx="1.5" ry="1.2"/><ellipse cx="1401.7" cy="209.6" rx="2.5" ry="1.1"/><ellipse cx="1428.3" cy="200.0" rx="1.9" ry="0.7"/><ellipse cx="1402.3" cy="174.9" rx="1.5" ry="1.0"/><ellipse cx="1431.9" cy="183.3" rx="1.1" ry="1.1"/></g>
<line x1="1356" y1="0" x2="1586" y2="313" stroke="#58547a" stroke-width="2.2"/>
<circle cx="833" cy="917" r="4" fill="#d8d8e8" fill-opacity="0.7"/>
<circle cx="757" cy="801" r="1.5" fill="#d8d8e8" fill-opacity="0.7"/>
<circle cx="713" cy="780" r="1.2" fill="#d8d8e8" fill-opacity="0.7"/>
<circle cx="1420" cy="877" r="1.2" fill="#d8d8e8" fill-opacity="0.7"/>
<circle cx="1555" cy="450" r="1" fill="#d8d8e8" fill-opacity="0.7"/>
<circle cx="1303" cy="168" r="1" fill="#d8d8e8" fill-opacity="0.7"/>
<circle cx="1228" cy="685" r="1.5" fill="#d8d8e8" fill-opacity="0.7"/>
<circle cx="957" cy="566" r="1.5" fill="#d8d8e8" fill-opacity="0.7"/>
<line x1="913.3" y1="6" x2="913.3" y2="957.6" stroke="#5f9bd8" stroke-width="1.6"/>
<line x1="107" y1="498.8" x2="1564" y2="501.6" stroke="#5f9bd8" stroke-width="1.6"/>
<rect x="297.2" y="53.9" width="480.9" height="27.7" fill="#97709b" stroke="#4b84b4" stroke-width="2"/>
<rect x="297.2" y="95.1" width="416.7" height="26.6" fill="#97709b" stroke="#4b84b4" stroke-width="2"/>
<rect x="297.2" y="134.2" width="439.7" height="27.5" fill="#5b9bd5" stroke="#4b84b4" stroke-width="2"/>
<rect x="297.2" y="177.2" width="387.6" height="26.6" fill="#5b9bd5" stroke="#4b84b4" stroke-width="2"/>
<rect x="297.2" y="259.1" width="471.6" height="26.6" fill="#97709b" stroke="#4b84b4" stroke-width="2"/>
<rect x="297.2" y="300.6" width="393.5" height="25.7" fill="#97709b" stroke="#4b84b4" stroke-width="2"/>
<rect x="297.2" y="341.6" width="416.5" height="25.8" fill="#5b9bd5" stroke="#4b84b4" stroke-width="2"/>
<rect x="297.2" y="382.3" width="361.4" height="26.5" fill="#5b9bd5" stroke="#4b84b4" stroke-width="2"/>
<rect x="947.3" y="54.3" width="464.7" height="27.2" fill="#97709b" stroke="#4b84b4" stroke-width="2"/>
<rect x="947.3" y="95.2" width="415.6" height="26.8" fill="#97709b" stroke="#4b84b4" stroke-width="2"/>
<rect x="947.3" y="134.2" width="522.3" height="27.5" fill="#5b9bd5" stroke="#4b84b4" stroke-width="2"/>
<rect x="947.3" y="177.0" width="402.3" height="26.3" fill="#5b9bd5" stroke="#4b84b4" stroke-width="2"/>
<rect x="947.3" y="257.4" width="518.3" height="26.6" fill="#97709b" stroke="#4b84b4" stroke-width="2"/>
<rect x="947.3" y="302.4" width="408.4" height="26.1" fill="#97709b" stroke="#4b84b4" stroke-width="2"/>
<rect x="947.3" y="342.6" width="518.3" height="25.7" fill="#5b9bd5" stroke="#4b84b4" stroke-width="2"/>
<rect x="947.3" y="383.7" width="361.3" height="25.7" fill="#5b9bd5" stroke="#4b84b4" stroke-width="2"/>
<rect x="297.2" y="532.3" width="502.4" height="26.2" fill="#97709b" stroke="#4b84b4" stroke-width="2"/>
<rect x="297.2" y="575.7" width="358.7" height="25.7" fill="#97709b" stroke="#4b84b4" stroke-width="2"/>
<rect x="297.2" y="616.5" width="459.6" height="25.8" fill="#5b9bd5" stroke="#4b84b4" stroke-width="2"/>
<rect x="297.2" y="658.9" width="327.4" height="25.2" fill="#5b9bd5" stroke="#4b84b4" stroke-width="2"/>
<rect x="297.2" y="740.2" width="521.6" height="27.2" fill="#97709b" stroke="#4b84b4" stroke-width="2"/>
<rect x="297.2" y="779.5" width="357.7" height="26.3" fill="#97709b" stroke="#4b84b4" stroke-width="2"/>
<rect x="297.2" y="821.9" width="407.1" height="25.7" fill="#5b9bd5" stroke="#4b84b4" stroke-width="2"/>
<rect x="297.2" y="863.8" width="324.4" height="26.7" fill="#5b9bd5" stroke="#4b84b4" stroke-width="2"/>
<rect x="947.3" y="532.1" width="552.5" height="27.0" fill="#97709b" stroke="#4b84b4" stroke-width="2"/>
<rect x="947.3" y="575.4" width="452.6" height="26.1" fill="#97709b" stroke="#4b84b4" stroke-width="2"/>
<rect x="947.3" y="614.3" width="452.6" height="27.0" fill="#5b9bd5" stroke="#4b84b4" stroke-width="2"/>
<rect x="947.3" y="655.4" width="301.2" height="27.0" fill="#5b9bd5" stroke="#4b84b4" stroke-width="2"/>
<rect x="947.3" y="740.0" width="552.5" height="27.0" fill="#97709b" stroke="#4b84b4" stroke-width="2"/>
<rect x="947.3" y="779.4" width="458.7" height="26.1" fill="#97709b" stroke="#4b84b4" stroke-width="2"/>
<rect x="947.3" y="821.3" width="398.1" height="26.2" fill="#5b9bd5" stroke="#4b84b4" stroke-width="2"/>
<rect x="947.3" y="863.7" width="264.0" height="26.6" fill="#5b9bd5" stroke="#4b84b4" stroke-width="2"/>
<text transform="translate(518.57,78.90) scale(0.7097,1)" font-size="27.60" fill="#ffffff">2.69</text>
<text transform="translate(486.47,120.10) scale(0.7105,1)" font-size="27.60" fill="#ffffff">2.22</text>
<text transform="translate(497.97,159.20) scale(0.7082,1)" font-size="27.60" fill="#ffffff">2.38</text>
<text transform="translate(471.92,202.20) scale(0.7082,1)" font-size="27.60" fill="#ffffff">2.08</text>
<text transform="translate(513.93,284.10) scale(0.7029,1)" font-size="27.60" fill="#ffffff">2.64</text>
<text transform="translate(476.45,325.60) scale(0.6516,1)" font-size="27.60" fill="#ffffff">2.17</text>
<text transform="translate(486.37,366.60) scale(0.7074,1)" font-size="27.60" fill="#ffffff">2.25</text>
<text transform="translate(459.92,407.30) scale(0.6588,1)" font-size="27.60" fill="#ffffff">1.98</text>
<text transform="translate(1160.77,79.30) scale(0.7021,1)" font-size="27.60" fill="#ffffff">0.50</text>
<text transform="translate(1136.23,120.20) scale(0.6991,1)" font-size="27.60" fill="#ffffff">0.44</text>
<text transform="translate(1189.57,159.20) scale(0.7044,1)" font-size="27.60" fill="#ffffff">0.53</text>
<text transform="translate(1129.57,202.00) scale(0.7067,1)" font-size="27.60" fill="#ffffff">0.42</text>
<text transform="translate(1187.57,282.40) scale(0.7044,1)" font-size="27.60" fill="#ffffff">0.53</text>
<text transform="translate(1132.62,327.40) scale(0.7067,1)" font-size="27.60" fill="#ffffff">0.42</text>
<text transform="translate(1187.57,367.60) scale(0.7044,1)" font-size="27.60" fill="#ffffff">0.53</text>
<text transform="translate(1109.07,408.70) scale(0.7059,1)" font-size="27.60" fill="#ffffff">0.39</text>
<text transform="translate(530.43,557.30) scale(0.6537,1)" font-size="27.60" fill="#ffffff">1.34</text>
<text transform="translate(457.67,600.70) scale(0.7044,1)" font-size="27.60" fill="#ffffff">0.98</text>
<text transform="translate(509.02,641.50) scale(0.6580,1)" font-size="27.60" fill="#ffffff">1.25</text>
<text transform="translate(442.02,683.90) scale(0.7044,1)" font-size="27.60" fill="#ffffff">0.88</text>
<text transform="translate(540.02,765.20) scale(0.6602,1)" font-size="27.60" fill="#ffffff">1.39</text>
<text transform="translate(458.74,804.50) scale(0.6474,1)" font-size="27.60" fill="#ffffff">0.91</text>
<text transform="translate(484.39,846.90) scale(0.6006,1)" font-size="27.60" fill="#ffffff">1.19</text>
<text transform="translate(440.52,888.80) scale(0.7067,1)" font-size="27.60" fill="#ffffff">0.77</text>
<text transform="translate(1206.24,557.10) scale(0.6453,1)" font-size="27.60" fill="#ffffff">0.15</text>
<text transform="translate(1156.28,600.40) scale(0.6481,1)" font-size="27.60" fill="#ffffff">0.12</text>
<text transform="translate(1156.28,639.30) scale(0.6481,1)" font-size="27.60" fill="#ffffff">0.12</text>
<text transform="translate(1079.02,680.40) scale(0.7044,1)" font-size="27.60" fill="#ffffff">0.08</text>
<text transform="translate(1206.24,765.00) scale(0.6453,1)" font-size="27.60" fill="#ffffff">0.15</text>
<text transform="translate(1159.34,804.40) scale(0.6439,1)" font-size="27.60" fill="#ffffff">0.10</text>
<text transform="translate(1130.57,846.30) scale(0.6133,1)" font-size="27.60" fill="#ffffff">0.11</text>
<text transform="translate(1060.42,888.70) scale(0.7067,1)" font-size="27.60" fill="#ffffff">0.07</text>
<text transform="translate(204.61,78.00) scale(0.6393,1)" font-size="27.60" fill="#ffffff">Y5S1.2</text>
<text transform="translate(204.61,119.00) scale(0.6369,1)" font-size="27.60" fill="#ffffff">Y5S1.0</text>
<text transform="translate(204.61,159.90) scale(0.6393,1)" font-size="27.60" fill="#ffffff">Y5S1.2</text>
<text transform="translate(204.61,200.70) scale(0.6369,1)" font-size="27.60" fill="#ffffff">Y5S1.0</text>
<text transform="translate(204.61,283.40) scale(0.6393,1)" font-size="27.60" fill="#ffffff">Y5S1.2</text>
<text transform="translate(204.61,324.10) scale(0.6369,1)" font-size="27.60" fill="#ffffff">Y5S1.0</text>
<text transform="translate(204.61,364.60) scale(0.6393,1)" font-size="27.60" fill="#ffffff">Y5S1.2</text>
<text transform="translate(204.61,405.30) scale(0.6369,1)" font-size="27.60" fill="#ffffff">Y5S1.0</text>
<text transform="translate(204.61,557.40) scale(0.6393,1)" font-size="27.60" fill="#ffffff">Y5S1.2</text>
<text transform="translate(204.61,599.30) scale(0.6369,1)" font-size="27.60" fill="#ffffff">Y5S1.0</text>
<text transform="translate(204.61,639.60) scale(0.6393,1)" font-size="27.60" fill="#ffffff">Y5S1.2</text>
<text transform="translate(204.61,681.00) scale(0.6369,1)" font-size="27.60" fill="#ffffff">Y5S1.0</text>
<text transform="translate(204.61,762.80) scale(0.6393,1)" font-size="27.60" fill="#ffffff">Y5S1.2</text>
<text transform="translate(204.61,804.20) scale(0.6369,1)" font-size="27.60" fill="#ffffff">Y5S1.0</text>
<text transform="translate(204.61,844.60) scale(0.6393,1)" font-size="27.60" fill="#ffffff">Y5S1.2</text>
<text transform="translate(204.61,885.90) scale(0.6369,1)" font-size="27.60" fill="#ffffff">Y5S1.0</text>
<text transform="translate(138.37,97.70) scale(0.7092,1)" font-size="27.60" fill="#ffffff">Top</text>
<text transform="translate(123.17,179.20) scale(0.6326,1)" font-size="27.60" fill="#ffffff">Regular</text>
<text transform="translate(138.37,302.60) scale(0.7092,1)" font-size="27.60" fill="#ffffff">Top</text>
<text transform="translate(123.17,383.70) scale(0.6326,1)" font-size="27.60" fill="#ffffff">Regular</text>
<text transform="translate(138.37,577.30) scale(0.7092,1)" font-size="27.60" fill="#ffffff">Top</text>
<text transform="translate(123.17,658.90) scale(0.6326,1)" font-size="27.60" fill="#ffffff">Regular</text>
<text transform="translate(138.37,782.70) scale(0.7092,1)" font-size="27.60" fill="#ffffff">Top</text>
<text transform="translate(123.17,863.70) scale(0.6326,1)" font-size="27.60" fill="#ffffff">Regular</text>
<text transform="translate(50.79,138.80) scale(0.5791,1)" font-size="27.60" fill="#ffffff">PC</text>
<text transform="translate(23.31,344.00) scale(0.5716,1)" font-size="27.60" fill="#ffffff">CONSOLE</text>
<text transform="translate(50.79,618.80) scale(0.5791,1)" font-size="27.60" fill="#ffffff">PC</text>
<text transform="translate(23.31,824.30) scale(0.5716,1)" font-size="27.60" fill="#ffffff">CONSOLE</text>
<text transform="translate(296.74,447.00) scale(0.7760,1)" font-size="27.60" fill="#ffffff">0.0</text>
<text transform="translate(389.77,447.00) scale(0.7479,1)" font-size="27.60" fill="#ffffff">0.5</text>
<text transform="translate(481.79,447.00) scale(0.7212,1)" font-size="27.60" fill="#ffffff">1.0</text>
<text transform="translate(574.85,447.00) scale(0.6922,1)" font-size="27.60" fill="#ffffff">1.5</text>
<text transform="translate(668.74,447.00) scale(0.7708,1)" font-size="27.60" fill="#ffffff">2.0</text>
<text transform="translate(760.94,447.00) scale(0.7648,1)" font-size="27.60" fill="#ffffff">2.5</text>
<text transform="translate(855.83,447.00) scale(0.7335,1)" font-size="27.60" fill="#ffffff">3.0</text>
<text transform="translate(947.53,447.60) scale(0.7898,1)" font-size="27.60" fill="#ffffff">0.0</text>
<text transform="translate(1039.80,447.60) scale(0.7207,1)" font-size="27.60" fill="#ffffff">0.1</text>
<text transform="translate(1133.54,447.60) scale(0.7832,1)" font-size="27.60" fill="#ffffff">0.2</text>
<text transform="translate(1226.54,447.60) scale(0.7796,1)" font-size="27.60" fill="#ffffff">0.3</text>
<text transform="translate(1319.55,447.60) scale(0.7713,1)" font-size="27.60" fill="#ffffff">0.4</text>
<text transform="translate(1412.57,447.60) scale(0.7562,1)" font-size="27.60" fill="#ffffff">0.5</text>
<text transform="translate(1505.52,447.60) scale(0.7934,1)" font-size="27.60" fill="#ffffff">0.6</text>
<text transform="translate(296.85,926.80) scale(0.7677,1)" font-size="27.60" fill="#ffffff">0.0</text>
<text transform="translate(482.56,926.80) scale(0.7645,1)" font-size="27.60" fill="#ffffff">0.5</text>
<text transform="translate(667.44,926.80) scale(0.7439,1)" font-size="27.60" fill="#ffffff">1.0</text>
<text transform="translate(853.52,926.80) scale(0.7064,1)" font-size="27.60" fill="#ffffff">1.5</text>
<text transform="translate(947.53,927.60) scale(0.7898,1)" font-size="27.60" fill="#ffffff">0.0</text>
<text transform="translate(1133.56,927.60) scale(0.7581,1)" font-size="27.60" fill="#ffffff">0.05</text>
<text transform="translate(1319.60,927.60) scale(0.7215,1)" font-size="27.60" fill="#ffffff">0.10</text>
<text transform="translate(1505.61,927.60) scale(0.7153,1)" font-size="27.60" fill="#ffffff">0.15</text>
<text transform="translate(523.14,487.90) scale(0.6248,1)" font-size="27.60" fill="#ffffff">Candelas used per round</text>
<text transform="translate(1158.71,487.80) scale(0.6256,1)" font-size="27.60" fill="#ffffff">Stunned ennemies / Candela</text>
<text transform="translate(506.80,968.60) scale(0.6315,1)" font-size="27.60" fill="#ffffff">Stunned ennemies per round</text>
<text transform="translate(1095.99,967.80) scale(0.6394,1)" font-size="27.60" fill="#ffffff">Stunned ennemies killed per round (By Ying)</text>
</svg>
</body></html>
